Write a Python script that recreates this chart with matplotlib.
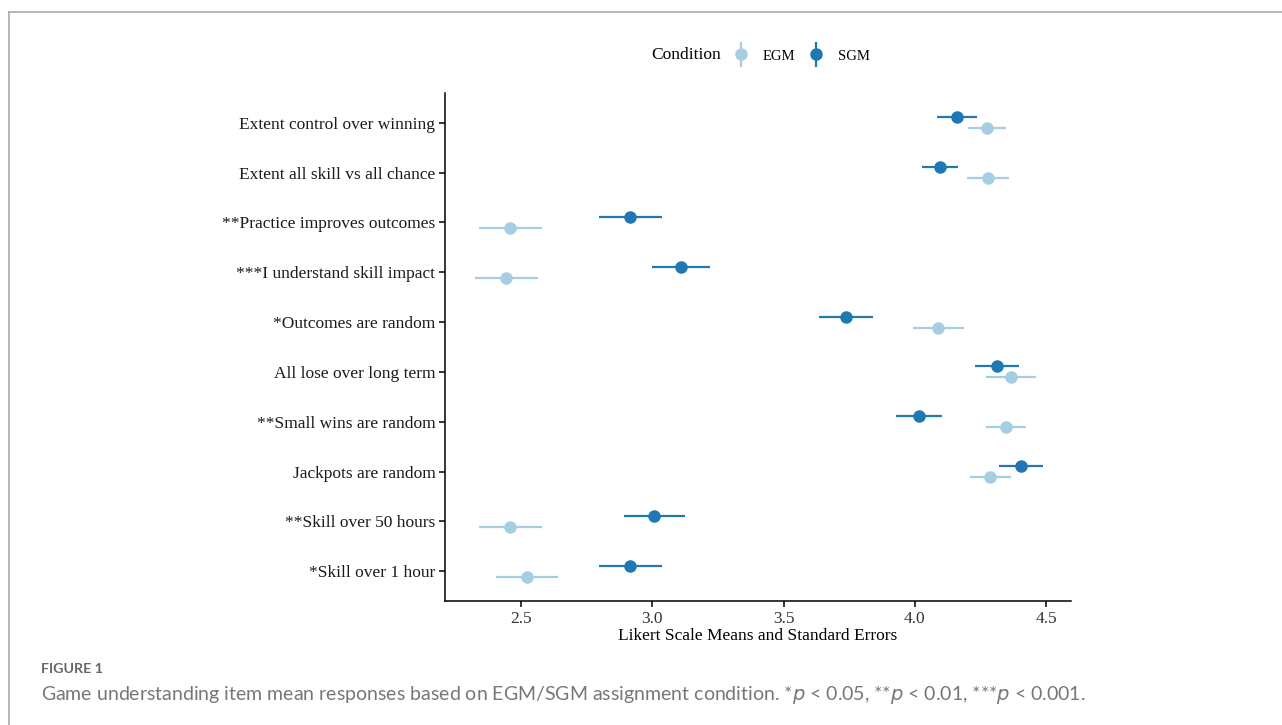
import matplotlib
matplotlib.use("Agg")
import matplotlib.pyplot as plt
import numpy as np
from matplotlib.lines import Line2D
from matplotlib.legend_handler import HandlerTuple

# item labels, top to bottom
items = ["Extent control over winning", "Extent all skill vs all chance",
         "**Practice improves outcomes", "***I understand skill impact",
         "*Outcomes are random", "All lose over long term",
         "**Small wins are random", "Jackpots are random",
         "**Skill over 50 hours", "*Skill over 1 hour"]

# means and standard errors
egm_mean = [4.275, 4.279, 2.458, 2.443, 4.089, 4.367, 4.348, 4.287, 2.458, 2.523]
egm_se = [0.072, 0.080, 0.120, 0.120, 0.097, 0.095, 0.075, 0.078, 0.120, 0.118]
sgm_mean = [4.161, 4.096, 2.915, 3.110, 3.738, 4.313, 4.016, 4.405, 3.007, 2.915]
sgm_se = [0.076, 0.070, 0.120, 0.110, 0.103, 0.082, 0.088, 0.084, 0.116, 0.120]

x_ticks = [2.5, 3.0, 3.5, 4.0, 4.5]

c_egm = "#a6cee3"
c_sgm = "#1f78b4"
serif = "Liberation Serif"

fig = plt.figure(figsize=(12.82, 7.25), dpi=100)
ax = fig.add_axes([445/1282, 1-601/725, (1071-445)/1282, (601-93)/725])

ypos = np.arange(len(items))[::-1]
dodge = 0.11
ax.errorbar(egm_mean, ypos - dodge, xerr=egm_se, fmt="o", color=c_egm,
            ms=8, elinewidth=1.6, capsize=0, zorder=2)
ax.errorbar(sgm_mean, ypos + dodge, xerr=sgm_se, fmt="o", color=c_sgm,
            ms=8, elinewidth=1.6, capsize=0, zorder=3)

ax.set_ylim(-0.6, len(items) - 0.4)
ax.set_xlim(2.21, 4.595)
ax.set_yticks(ypos)
ax.set_yticklabels(items, fontfamily=serif, fontsize=12.5, color="#1a1a1a")
ax.set_xticks(x_ticks)
ax.set_xticklabels([f"{t:.1f}" for t in x_ticks], fontfamily=serif,
                   fontsize=12.5, color="#333333")
ax.set_xlabel("Likert Scale Means and Standard Errors", fontfamily=serif,
              fontsize=12.5, labelpad=1)
for s in ["top", "right"]:
    ax.spines[s].set_visible(False)
for s in ["left", "bottom"]:
    ax.spines[s].set_linewidth(1.1)
ax.tick_params(length=4, width=1.1, pad=3)

# legend
fig.text(686/1282, 1-55/725, "Condition", fontfamily=serif, fontsize=12.5,
         ha="center", va="center")
h_egm = (Line2D([], [], color=c_egm, marker="|", ms=18, mew=1.6, ls=""),
         Line2D([], [], color=c_egm, marker="o", ms=8, ls=""))
h_sgm = (Line2D([], [], color=c_sgm, marker="|", ms=18, mew=1.6, ls=""),
         Line2D([], [], color=c_sgm, marker="o", ms=8, ls=""))
fig.legend([h_egm, h_sgm], ["EGM", "SGM"], loc="center left",
           bbox_to_anchor=(719/1282, 1-56/725), ncol=2, frameon=False,
           handler_map={tuple: HandlerTuple(ndivide=1, pad=0)},
           prop={"family": serif, "size": 10.5}, handlelength=1.2,
           handletextpad=0.9, columnspacing=0.8)

# page frame
fig.add_artist(Line2D([9/1282, 1], [1-12/725, 1-12/725], color="#aaaaaa", lw=1.2))
fig.add_artist(Line2D([9/1282, 9/1282], [0, 1-12/725], color="#aaaaaa", lw=1.2))

# caption
fig.text(41/1282, 1-669/725, "FIGURE 1", fontfamily="Lato", fontweight="bold",
         fontsize=10.3, color="#666666", va="center")
fig.text(41/1282, 1-695/725,
         "Game understanding item mean responses based on EGM/SGM assignment condition. "
         "*$p$ < 0.05, **$p$ < 0.01, ***$p$ < 0.001.",
         fontfamily="Lato", fontsize=14, color="#777777", va="center")

fig.savefig("out.png", dpi=100)
